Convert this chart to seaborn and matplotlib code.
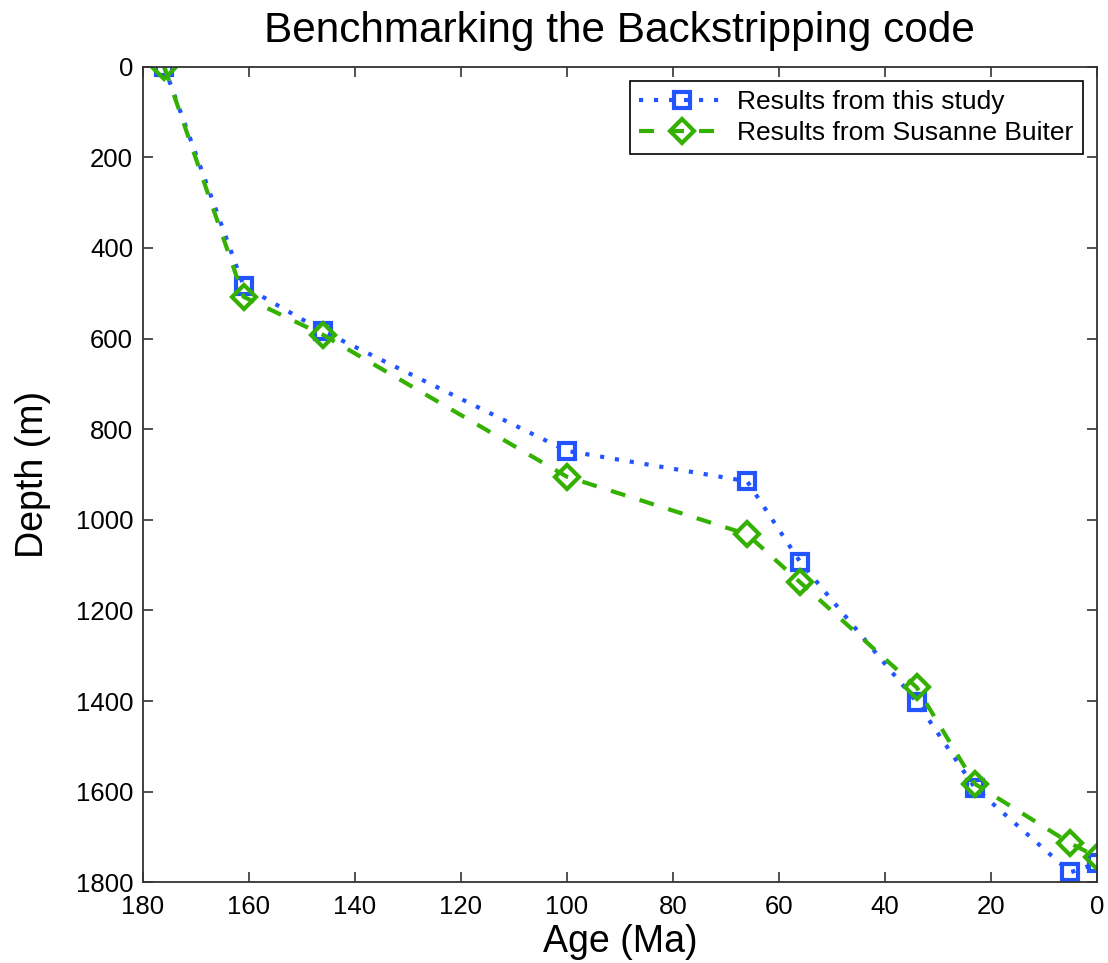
import matplotlib
matplotlib.use("Agg")
import matplotlib.pyplot as plt
import seaborn as sns
import pandas as pd

# Data
age_study = [176, 161, 146, 100, 66, 56, 34, 23, 5, 0]
depth_study = [0, 484, 584, 848, 915, 1093, 1402, 1592, 1778, 1758]
age_buiter = [176, 161, 146, 100, 66, 56, 34, 23, 5, 0]
depth_buiter = [0, 508, 592, 905, 1032, 1138, 1370, 1583, 1714, 1744]
label_study = "Results from this study"
label_buiter = "Results from Susanne Buiter"
x_ticks = [180, 160, 140, 120, 100, 80, 60, 40, 20, 0]
y_ticks = [0, 200, 400, 600, 800, 1000, 1200, 1400, 1600, 1800]

sns.set_style("ticks")
plt.rcParams['font.family'] = ['Liberation Sans', 'DejaVu Sans']
plt.rcParams['text.color'] = 'black'
plt.rcParams['axes.labelcolor'] = 'black'

fig = plt.figure(figsize=(11.08, 9.63), dpi=100)
ax = fig.add_axes([0.129, 0.0838, 0.8610, 0.8470])

blue = "#2255ff"
green = "#33b000"

df1 = pd.DataFrame({"age": age_study, "depth": depth_study})
df2 = pd.DataFrame({"age": age_buiter, "depth": depth_buiter})

sns.lineplot(data=df1, x="age", y="depth", sort=False, ax=ax, color=blue,
             linewidth=3, marker="s", markersize=11, markeredgewidth=3,
             markerfacecolor="none", markeredgecolor=blue, label=label_study)
sns.lineplot(data=df2, x="age", y="depth", sort=False, ax=ax, color=green,
             linewidth=3, marker="D", markersize=12, markeredgewidth=3,
             markerfacecolor="none", markeredgecolor=green, label=label_buiter)

l1, l2 = ax.lines[0], ax.lines[1]
l1.set_dashes((1, 2.6))
l2.set_dashes((3.6, 3.6))

ax.set_xlim(180, 0)
ax.set_ylim(1800, 0)
ax.set_xticks(x_ticks)
ax.set_yticks(y_ticks)
ax.tick_params(direction="in", length=7, width=1.2, top=True, right=True,
               labelsize=18.5, pad=7, colors="#333333", labelcolor="black")
ax.tick_params(axis="x", pad=9.5)
for s in ax.spines.values():
    s.set_visible(True)
    s.set_color("#333333")
    s.set_linewidth(1.3)

ax.set_xlabel("Age (Ma)", fontsize=27, labelpad=3, color="black")
ax.set_ylabel("Depth (m)", fontsize=27, labelpad=18, color="black")
ax.set_title("Benchmarking the Backstripping code", fontsize=30.5, pad=18,
             color="black")

leg = ax.legend(handles=[l1, l2], labels=[label_study, label_buiter],
                loc="upper right", fontsize=19, frameon=True, fancybox=False,
                edgecolor="black", framealpha=1, borderpad=0.35,
                handlelength=3.2, handletextpad=0.5, labelspacing=0.28,
                borderaxespad=0, bbox_to_anchor=(0.985, 0.983))
leg.get_frame().set_linewidth(1.2)

fig.savefig("out.png", dpi=100)
